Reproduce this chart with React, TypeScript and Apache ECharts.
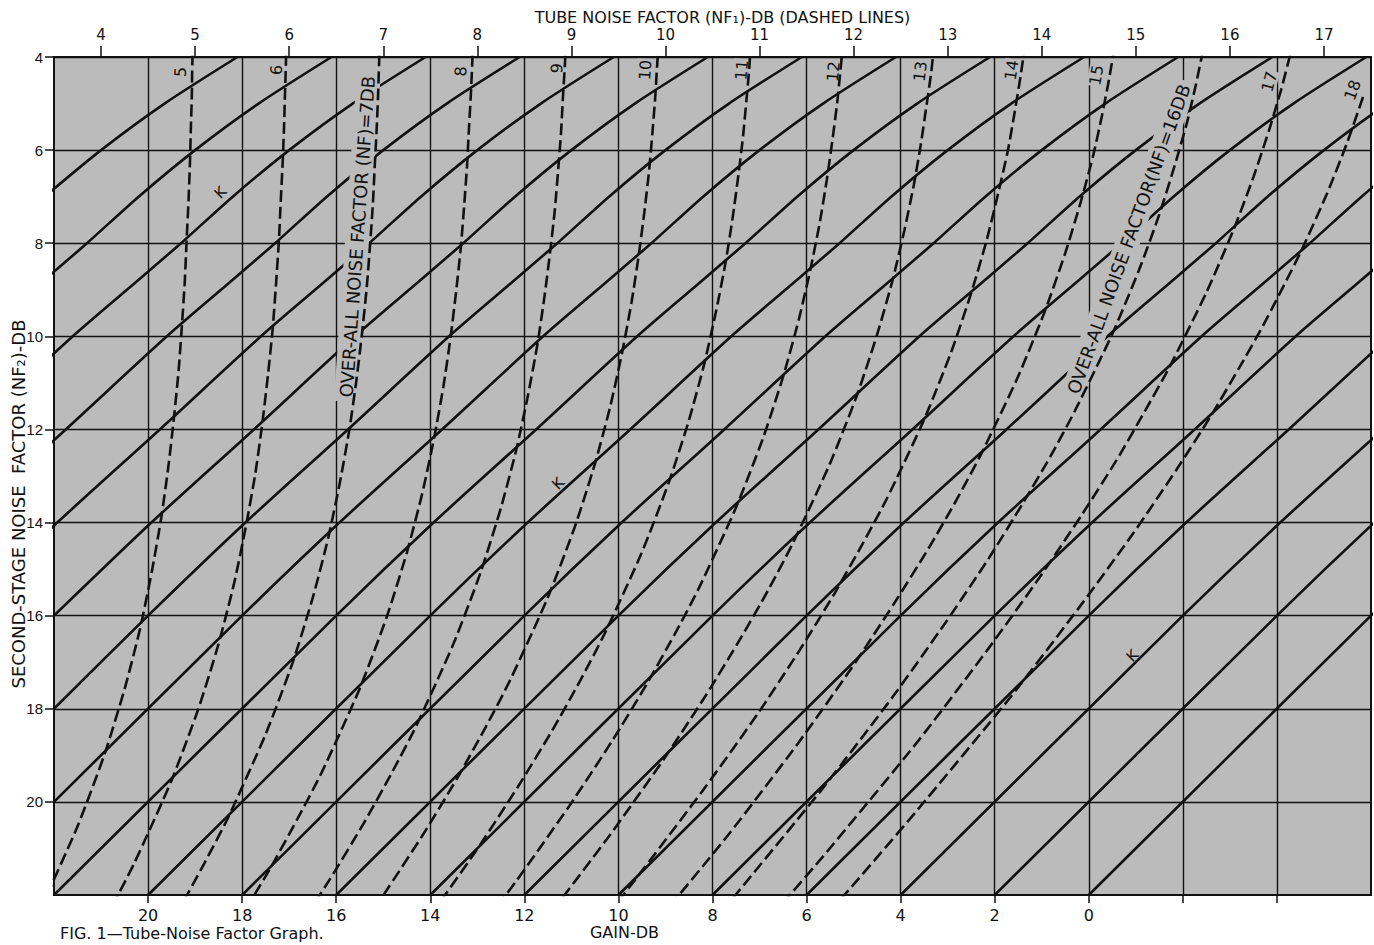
import React, { useEffect, useRef } from "react";
import * as echarts from "echarts";

// ---------- axes ----------
const GAIN_TICKS = [20, 18, 16, 14, 12, 10, 8, 6, 4, 2, 0, -2, -4];
const GAIN_LABELS = [20, 18, 16, 14, 12, 10, 8, 6, 4, 2, 0];
const NF2_TICKS = [4, 6, 8, 10, 12, 14, 16, 18, 20];
const NF1_TICKS = [4, 5, 6, 7, 8, 9, 10, 11, 12, 13, 14, 15, 16, 17];

// ---------- solid "K" lines: [gain dB, NF2 dB] ----------
const K_M16 = [[18.1, 4], [19.65, 5], [21.0, 6], [22.2, 7]];
const K_M14 = [[16.1, 4], [17.65, 5], [19.0, 6], [20.2, 7], [21.3, 8], [22.45, 9]];
const K_M12 = [[14.1, 4], [15.65, 5], [17.0, 6], [18.2, 7], [19.3, 8], [20.45, 9], [21.6, 10], [23.75, 12]];
const K_M10 = [[12.1, 4], [13.65, 5], [15.0, 6], [16.2, 7], [17.3, 8], [18.45, 9], [19.6, 10], [21.75, 12], [23.93, 14]];
const K_M8 = [[10.1, 4], [11.65, 5], [13.0, 6], [14.2, 7], [15.3, 8], [16.45, 9], [17.6, 10], [19.75, 12], [21.93, 14], [24.0, 16]];
const K_M6 = [[8.1, 4], [9.65, 5], [11.0, 6], [12.2, 7], [13.3, 8], [14.45, 9], [15.6, 10], [17.75, 12], [19.93, 14], [22.0, 16]];
const K_M4 = [[6.1, 4], [7.65, 5], [9.0, 6], [10.2, 7], [11.3, 8], [12.45, 9], [13.6, 10], [15.75, 12], [17.93, 14], [20.0, 16], [22.0, 18]];
const K_M2 = [[4.1, 4], [5.65, 5], [7.0, 6], [8.2, 7], [9.3, 8], [10.45, 9], [11.6, 10], [13.75, 12], [15.93, 14], [18.0, 16], [22.0, 20]];
const K_0 = [[2.1, 4], [3.65, 5], [5.0, 6], [6.2, 7], [7.3, 8], [8.45, 9], [9.6, 10], [11.75, 12], [13.93, 14], [16.0, 16], [22.0, 22]];
const K_2 = [[0.1, 4], [1.65, 5], [3.0, 6], [4.2, 7], [5.3, 8], [6.45, 9], [7.6, 10], [9.75, 12], [11.93, 14], [14.0, 16], [20.0, 22]];
const K_4 = [[-1.9, 4], [-0.35, 5], [1.0, 6], [2.2, 7], [3.3, 8], [4.45, 9], [5.6, 10], [7.75, 12], [9.93, 14], [12.0, 16], [18.0, 22]];
const K_6 = [[-3.9, 4], [-2.35, 5], [-1.0, 6], [0.2, 7], [1.3, 8], [2.45, 9], [3.6, 10], [5.75, 12], [7.93, 14], [10.0, 16], [16.0, 22]];
const K_8 = [[-5.9, 4], [-4.35, 5], [-3.0, 6], [-1.8, 7], [-0.7, 8], [0.45, 9], [1.6, 10], [3.75, 12], [5.93, 14], [8.0, 16], [14.0, 22]];
const K_10 = [[-7.9, 4], [-6.35, 5], [-5.0, 6], [-3.8, 7], [-2.7, 8], [-1.55, 9], [-0.4, 10], [1.75, 12], [3.93, 14], [6.0, 16], [12.0, 22]];
const K_12 = [[-8.35, 5], [-7.0, 6], [-5.8, 7], [-4.7, 8], [-3.55, 9], [-2.4, 10], [-0.25, 12], [1.93, 14], [4.0, 16], [10.0, 22]];
const K_14 = [[-7.8, 7], [-6.7, 8], [-5.55, 9], [-4.4, 10], [-2.25, 12], [-0.07, 14], [2.0, 16], [8.0, 22]];
const K_16 = [[-7.55, 9], [-6.4, 10], [-4.25, 12], [-2.07, 14], [0.0, 16], [6.0, 22]];
const K_18 = [[-8.4, 10], [-6.25, 12], [-4.07, 14], [-2.0, 16], [4.0, 22]];
const K_20 = [[-8.25, 12], [-6.07, 14], [-4.0, 16], [2.0, 22]];
const K_22 = [[-8.07, 14], [-6.0, 16], [0.0, 22]];

const SOLID_LINES = [K_M16, K_M14, K_M12, K_M10, K_M8, K_M6, K_M4, K_M2, K_0, K_2, K_4, K_6, K_8, K_10, K_12, K_14, K_16, K_18, K_20, K_22];

// ---------- dashed over-all noise factor curves: [gain dB, NF2 dB] ----------
const DASH_5 = [[19.04, 3.56], [19.06, 4.16], [19.07, 4.85], [19.09, 5.52], [19.11, 6.28], [19.14, 7.09], [19.18, 7.93], [19.22, 8.83], [19.28, 9.76], [19.35, 10.73], [19.45, 11.75], [19.57, 12.81], [19.72, 13.9], [19.92, 15.05], [20.17, 16.28], [20.5, 17.58], [20.93, 18.99], [21.51, 20.55], [22.3, 22.33]];
const DASH_6 = [[17.06, 3.57], [17.07, 4.17], [17.09, 4.82], [17.11, 5.53], [17.14, 6.3], [17.18, 7.11], [17.22, 7.97], [17.28, 8.88], [17.35, 9.83], [17.45, 10.82], [17.57, 11.86], [17.72, 12.95], [17.92, 14.08], [18.17, 15.3], [18.5, 16.6], [18.93, 18.0], [19.51, 19.56], [20.3, 21.33], [20.81, 22.33]];
const DASH_7 = [[15.07, 3.58], [15.09, 4.18], [15.11, 4.83], [15.14, 5.55], [15.18, 6.32], [15.22, 7.15], [15.28, 8.03], [15.35, 8.94], [15.45, 9.92], [15.57, 10.94], [15.72, 12.0], [15.92, 13.13], [16.17, 14.33], [16.5, 15.62], [16.93, 17.02], [17.51, 18.57], [18.3, 20.34], [18.81, 21.33], [19.41, 22.44]];
const DASH_8 = [[13.09, 3.59], [13.11, 4.19], [13.14, 4.85], [13.18, 5.58], [13.22, 6.35], [13.28, 7.2], [13.35, 8.08], [13.45, 9.03], [13.57, 10.03], [13.72, 11.07], [13.92, 12.19], [14.17, 13.37], [14.5, 14.65], [14.93, 16.04], [15.51, 17.59], [16.3, 19.35], [16.81, 20.34], [17.41, 21.44], [18.14, 22.67]];
const DASH_9 = [[11.11, 3.6], [11.14, 4.2], [11.18, 4.87], [11.22, 5.62], [11.28, 6.41], [11.35, 7.26], [11.45, 8.17], [11.57, 9.13], [11.72, 10.16], [11.92, 11.25], [12.17, 12.43], [12.5, 13.69], [12.93, 15.07], [13.51, 16.61], [14.3, 18.37], [14.81, 19.36], [15.41, 20.45], [16.14, 21.67], [17.04, 23.06]];
const DASH_10 = [[9.14, 3.61], [9.18, 4.23], [9.22, 4.9], [9.28, 5.66], [9.35, 6.46], [9.45, 7.34], [9.57, 8.27], [9.72, 9.26], [9.92, 10.34], [10.17, 11.49], [10.5, 12.74], [10.93, 14.1], [11.51, 15.63], [12.3, 17.38], [12.81, 18.37], [13.41, 19.46], [14.14, 20.68], [15.04, 22.07]];
const DASH_11 = [[7.18, 3.63], [7.22, 4.26], [7.28, 4.94], [7.35, 5.7], [7.45, 6.54], [7.57, 7.44], [7.72, 8.4], [7.92, 9.44], [8.17, 10.57], [8.5, 11.8], [8.93, 13.14], [9.51, 14.66], [10.3, 16.4], [10.81, 17.39], [11.41, 18.47], [12.14, 19.68], [13.04, 21.07], [14.18, 22.7]];
const DASH_12 = [[5.22, 3.65], [5.28, 4.29], [5.35, 4.99], [5.45, 5.78], [5.57, 6.64], [5.72, 7.56], [5.92, 8.57], [6.17, 9.66], [6.5, 10.87], [6.93, 12.2], [7.51, 13.7], [8.3, 15.43], [8.81, 16.41], [9.41, 17.49], [10.14, 18.7], [11.04, 20.08], [12.18, 21.71], [13.65, 23.67]];
const DASH_13 = [[3.28, 3.68], [3.35, 4.33], [3.45, 5.04], [3.57, 5.87], [3.72, 6.75], [3.92, 7.72], [4.17, 8.79], [4.5, 9.96], [4.93, 11.27], [5.51, 12.75], [6.3, 14.46], [6.81, 15.44], [7.41, 16.5], [8.14, 17.71], [9.04, 19.09], [10.18, 20.71], [11.65, 22.67]];
const DASH_14 = [[1.35, 3.71], [1.45, 4.41], [1.57, 5.15], [1.72, 6.01], [1.92, 6.9], [2.17, 7.93], [2.5, 9.07], [2.93, 10.35], [3.51, 11.81], [4.3, 13.5], [4.81, 14.46], [5.41, 15.53], [6.14, 16.73], [7.04, 18.11], [8.18, 19.72], [9.65, 21.68], [10.6, 22.9]];
const DASH_15 = [[-0.55, 3.77], [-0.43, 4.48], [-0.28, 5.26], [-0.09, 6.13], [0.17, 7.11], [0.5, 8.21], [0.93, 9.45], [1.51, 10.88], [2.3, 12.55], [2.81, 13.51], [3.41, 14.56], [4.14, 15.74], [5.04, 17.12], [6.18, 18.74], [7.65, 20.69], [9.69, 23.2]];
const DASH_16 = [[-2.43, 3.85], [-2.28, 4.58], [-2.09, 5.4], [-1.83, 6.32], [-1.5, 7.38], [-1.07, 8.57], [-0.49, 9.97], [0.3, 11.61], [0.81, 12.57], [1.41, 13.6], [2.14, 14.79], [3.04, 16.14], [4.18, 17.76], [5.65, 19.7], [7.69, 22.22]];
const DASH_17 = [[-4.28, 3.96], [-4.09, 4.7], [-3.83, 5.58], [-3.5, 6.58], [-3.07, 7.73], [-2.49, 9.08], [-1.7, 10.69], [-1.19, 11.61], [-0.59, 12.66], [0.14, 13.82], [1.04, 15.17], [2.18, 16.77], [3.65, 18.72], [5.69, 21.22], [7.04, 22.79]];
const DASH_18 = [[-5.83, 4.86], [-5.5, 5.82], [-5.07, 6.92], [-4.49, 8.22], [-3.7, 9.78], [-3.19, 10.69], [-2.59, 11.72], [-1.86, 12.87], [-0.96, 14.21], [0.18, 15.79], [1.65, 17.73], [3.69, 20.23], [5.04, 21.82], [6.0, 22.9]];

const DASHED_LINES = [DASH_5, DASH_6, DASH_7, DASH_8, DASH_9, DASH_10, DASH_11, DASH_12, DASH_13, DASH_14, DASH_15, DASH_16, DASH_17, DASH_18];

// ---------- curve labels ----------
const CURVE_LABEL_TEXT = ["5", "6", "8", "9", "10", "11", "12", "13", "14", "15", "17", "18"];
const CURVE_LABEL_GAIN = [19.31, 17.27, 13.35, 11.31, 9.43, 7.38, 5.43, 3.58, 1.64, -0.16, -3.84, -5.61];
const CURVE_LABEL_NF2 = [4.32, 4.28, 4.31, 4.24, 4.28, 4.28, 4.31, 4.31, 4.28, 4.39, 4.53, 4.71];
const CURVE_LABEL_ROT = [88, 88, 87, 86, 86, 85, 84, 83, 81, 80, 75, 70];

const NOTE_TEXT = ["OVER-ALL NOISE FACTOR (NF)=7DB", "OVER-ALL NOISE FACTOR(NF)=16DB"];
const NOTE_GAIN = [15.55, -0.85];
const NOTE_NF2 = [7.86, 7.91];
const NOTE_ROT = [86, 70];

const K_MARK_GAIN = [18.46, 11.28, -0.93];
const K_MARK_NF2 = [6.91, 13.16, 16.86];

const FONT = "'DejaVu Sans', 'Noto Sans', sans-serif";
const TICK_FONT = "'Liberation Sans', 'DejaVu Sans', sans-serif";
const INK = "#111111";
const PAPER = "#bbbbbb";

function buildOption(): any {
  const solidSeries = SOLID_LINES.map((pts) => ({
    type: "line",
    xAxisIndex: 0,
    yAxisIndex: 0,
    data: pts,
    symbol: "none",
    showSymbol: false,
    silent: true,
    clip: true,
    smooth: 0.25,
    z: 2,
    lineStyle: { color: INK, width: 2.6 },
  }));
  const dashedSeries = DASHED_LINES.map((pts) => ({
    type: "line",
    xAxisIndex: 0,
    yAxisIndex: 0,
    data: pts,
    symbol: "none",
    showSymbol: false,
    silent: true,
    clip: true,
    smooth: 0.2,
    z: 4,
    lineStyle: { color: INK, width: 2.6, type: [12, 5] },
  }));

  const labelBase = { color: INK, opacity: 1, textBorderWidth: 0, fontFamily: FONT };
  const labelData: any[] = [];
  CURVE_LABEL_TEXT.forEach((t, i) => {
    labelData.push({
      name: t,
      value: [CURVE_LABEL_GAIN[i], CURVE_LABEL_NF2[i]],
      label: { ...labelBase, rotate: CURVE_LABEL_ROT[i], fontSize: 16, backgroundColor: PAPER, padding: [0, 1] },
    });
  });
  NOTE_TEXT.forEach((t, i) => {
    labelData.push({
      name: t,
      value: [NOTE_GAIN[i], NOTE_NF2[i]],
      label: { ...labelBase, rotate: NOTE_ROT[i], fontSize: 18, backgroundColor: PAPER, padding: [3, 4] },
    });
  });
  K_MARK_GAIN.forEach((g, i) => {
    labelData.push({
      name: "K",
      value: [g, K_MARK_NF2[i]],
      label: { ...labelBase, rotate: 45, fontSize: 15 },
    });
  });

  const labelSeries = {
    type: "scatter",
    xAxisIndex: 0,
    yAxisIndex: 0,
    silent: true,
    z: 3,
    symbolSize: 1,
    itemStyle: { color: "rgba(0,0,0,0)", opacity: 1 },
    data: labelData,
    label: {
      show: true,
      position: "inside",
      formatter: "{b}",
      ...labelBase,
    },
  };

  return {
    animation: false,
    backgroundColor: "#ffffff",
    textStyle: { fontFamily: FONT, color: INK },
    grid: {
      left: 54,
      top: 57,
      width: 1317,
      height: 841,
      show: true,
      backgroundColor: PAPER,
      borderColor: INK,
      borderWidth: 2,
      z: 0,
    },
    xAxis: [
      {
        type: "value",
        position: "bottom",
        min: -6,
        max: 22,
        interval: 2,
        inverse: true,
        name: "GAIN-DB",
        nameLocation: "middle",
        nameGap: 29,
        nameMoveOverlap: false,
        nameTextStyle: { fontSize: 16, color: INK, fontFamily: FONT, padding: [0, 176, 0, 0] },
        axisLine: { show: true, onZero: false, lineStyle: { color: INK, width: 2 } },
        axisTick: { show: true, length: 8, customValues: GAIN_TICKS, lineStyle: { color: INK, width: 1.5 } },
        axisLabel: { customValues: GAIN_LABELS, fontSize: 16, color: INK, margin: 12, fontFamily: FONT },
        splitLine: { show: true, lineStyle: { color: INK, width: 1.4 } },
      },
      {
        type: "value",
        position: "top",
        min: 3.5,
        max: 17.5,
        name: "TUBE NOISE FACTOR (NF\u2081)-DB (DASHED LINES)",
        nameLocation: "middle",
        nameGap: 32,
        nameMoveOverlap: false,
        nameTextStyle: { fontSize: 16, color: INK, fontFamily: FONT, padding: [0, 0, 0, 20] },
        axisLine: { show: true, onZero: false, lineStyle: { color: INK, width: 2 } },
        axisTick: { show: true, length: 11, customValues: NF1_TICKS, lineStyle: { color: INK, width: 1.5 } },
        axisLabel: { customValues: NF1_TICKS, fontSize: 15, color: INK, margin: 15, fontFamily: FONT },
        splitLine: { show: false },
      },
    ],
    yAxis: {
      type: "value",
      position: "left",
      min: 4,
      max: 22,
      interval: 2,
      inverse: true,
      name: "SECOND-STAGE NOISE  FACTOR (NF\u2082)-DB",
      nameLocation: "middle",
      nameGap: 27,
      nameRotate: 90,
      nameMoveOverlap: false,
      nameTextStyle: { fontSize: 18, color: INK, fontFamily: FONT, padding: [0, 56, 0, 0] },
      axisLine: { show: true, onZero: false, lineStyle: { color: INK, width: 2 } },
      axisTick: { show: true, length: 9, customValues: NF2_TICKS, lineStyle: { color: INK, width: 1.5 } },
      axisLabel: { customValues: NF2_TICKS, fontSize: 15, color: INK, margin: 11, fontFamily: TICK_FONT },
      splitLine: { show: true, lineStyle: { color: INK, width: 1.4 } },
    },
    graphic: [
      {
        type: "text",
        left: 60,
        top: 925,
        style: { text: "FIG. 1\u2014Tube-Noise Factor Graph.", fontSize: 16, fill: INK, fontFamily: FONT },
      },
    ],
    series: [...solidSeries, labelSeries, ...dashedSeries],
  };
}

export default function App() {
  const ref = useRef<HTMLDivElement>(null);
  useEffect(() => {
    if (!ref.current) return;
    const chart = echarts.init(ref.current, null, { renderer: "svg" });
    chart.setOption(buildOption());
    return () => chart.dispose();
  }, []);
  return (
    <div
      ref={ref}
      style={{ position: "fixed", left: 0, top: 0, width: 1374, height: 945, background: "#ffffff" }}
    />
  );
}
